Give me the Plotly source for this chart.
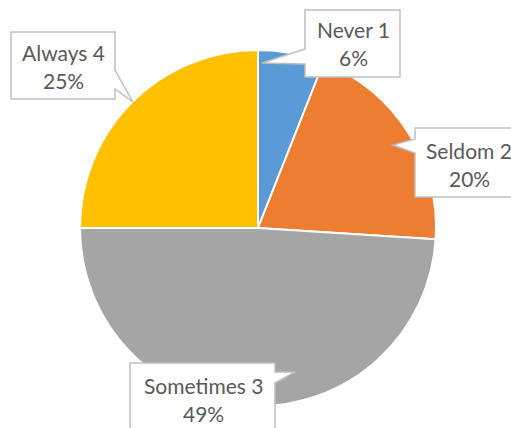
import plotly.graph_objects as go

# Survey answer categories and their shares (%)
categories = ["Never 1", "Seldom 2", "Sometimes 3", "Always 4"]
shares = [6, 20, 49, 25]
colors = ["#5B9BD5", "#ED7D31", "#A5A5A5", "#FFC000"]

W, H = 511, 428


def px(x):
    return x / W


def py(y):
    return 1 - y / H


fig = go.Figure(
    go.Pie(
        labels=categories,
        values=shares,
        sort=False,
        direction="clockwise",
        rotation=0,
        marker=dict(colors=colors, line=dict(color="white", width=2)),
        textinfo="none",
        hoverinfo="label+percent",
        domain=dict(x=[px(80), px(436)], y=[py(406), py(50)]),
        showlegend=False,
    )
)

# Callout boxes: (box left, top, right, bottom), pointer side, wedge base y-range, tip
callouts = {
    "Never 1": dict(box=(305, 10, 400, 77), side="left", base=(49, 64), tip=(262, 63)),
    "Seldom 2": dict(box=(415, 128, 530, 197), side="left", base=(139, 153), tip=(393, 145)),
    "Sometimes 3": dict(box=(130, 363, 275, 445), side="right", base=(372, 383), tip=(295, 372)),
    "Always 4": dict(box=(11, 32, 115, 99), side="right", base=(70, 89), tip=(133, 102)),
}
# Text centre (x, y) of each callout
text_centres = {
    "Never 1": (353, 44),
    "Seldom 2": (469, 164),
    "Sometimes 3": (203, 399),
    "Always 4": (63, 66),
}

shapes = []
annotations = []
for name, share in zip(categories, shares):
    c = callouts[name]
    x0, y0, x1, y1 = c["box"]
    b0, b1 = c["base"]
    tx, ty = c["tip"]
    if c["side"] == "left":
        pts = [(x0, y0), (x1, y0), (x1, y1), (x0, y1), (x0, b1), (tx, ty), (x0, b0)]
    else:
        pts = [(x0, y0), (x1, y0), (x1, b0), (tx, ty), (x1, b1), (x1, y1), (x0, y1)]
    path = "M " + " L ".join(f"{px(a):.5f},{py(b):.5f}" for a, b in pts) + " Z"
    shapes.append(
        dict(
            type="path",
            xref="paper",
            yref="paper",
            path=path,
            fillcolor="white",
            line=dict(color="#BFBFBF", width=1.5),
            layer="above",
        )
    )
    cx, cy = text_centres[name]
    for txt, dy in ((name, -14), (f"{share}%", 14)):
        annotations.append(
            dict(
                x=px(cx),
                y=py(cy + dy),
                xref="paper",
                yref="paper",
                text=txt,
                showarrow=False,
                xanchor="center",
                yanchor="middle",
                font=dict(family="Lato, Carlito, sans-serif", size=21, color="#595959"),
            )
        )

fig.update_layout(
    width=W,
    height=H,
    margin=dict(l=0, r=0, t=0, b=0),
    paper_bgcolor="white",
    plot_bgcolor="white",
    shapes=shapes,
    annotations=annotations,
)

fig.write_html("out.html")
